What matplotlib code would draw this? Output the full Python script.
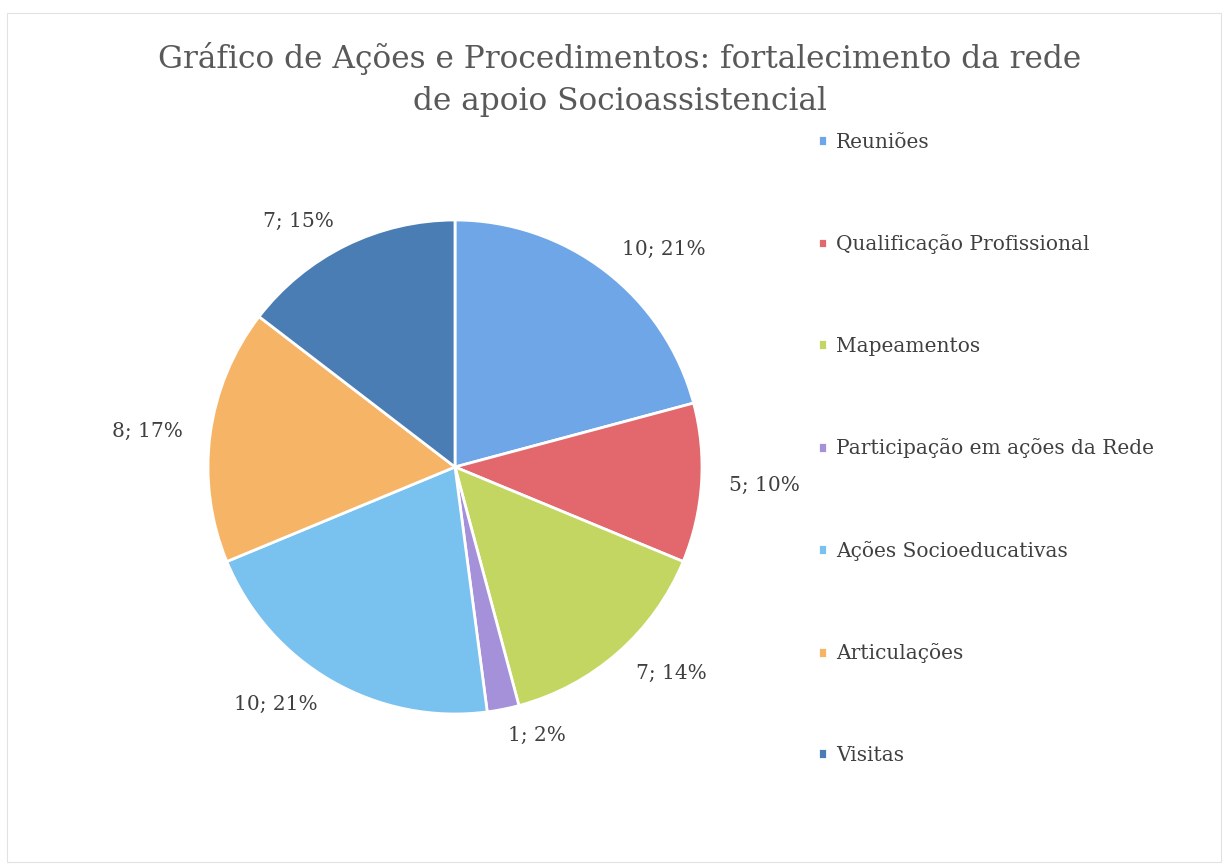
import matplotlib
matplotlib.use("Agg")
import matplotlib.pyplot as plt
from matplotlib.patches import Rectangle

categorias = ["Reuniões", "Qualificação Profissional", "Mapeamentos",
              "Participação em ações da Rede", "Ações Socioeducativas",
              "Articulações", "Visitas"]
valores = [10, 5, 7, 1, 10, 8, 7]
percentuais = ["21%", "10%", "14%", "2%", "21%", "17%", "15%"]
cores = ["#6fa6e8", "#e3686d", "#c3d661", "#a591d9", "#79c1ef", "#f6b467", "#4a7db4"]

titulo = "Gráfico de Ações e Procedimentos: fortalecimento da rede\nde apoio Socioassistencial"

plt.rcParams['font.family'] = ['DejaVu Serif']

fig = plt.figure(figsize=(12.23, 8.65), dpi=100)
fig.set_facecolor('white')

# moldura clara da área do gráfico
fig.patches.append(Rectangle((7 / 1223, 3 / 865), 1214 / 1223, 849 / 865,
                             transform=fig.transFigure, fill=False,
                             edgecolor='#e2e2e2', linewidth=0.8))

# eixo do gráfico de pizza (centro ~ (455, 467) px, raio ~247 px)
ax = fig.add_axes([208 / 1223, 151 / 865, 494 / 1223, 494 / 865])
rotulos = [f"{v}; {p}" for v, p in zip(valores, percentuais)]
wedges, textos = ax.pie(valores, colors=cores, startangle=90, counterclock=False,
                        labels=rotulos, labeldistance=1.11,
                        wedgeprops=dict(edgecolor='white', linewidth=2),
                        textprops=dict(fontsize=14.5, color='#404040'))
ax.set_xlim(-1, 1)
ax.set_ylim(-1, 1)
ax.set_aspect('equal')

fig.text(0.507, 0.951, titulo, ha='center', va='top', fontsize=22.5,
         color='#595959', linespacing=1.45)

fig.legend(wedges, categorias, loc='upper left', bbox_to_anchor=(0.662, 0.856),
           frameon=False, fontsize=14.5, labelcolor='#404040',
           handlelength=0.45, handleheight=0.45, handletextpad=0.45,
           labelspacing=4.1, borderaxespad=0)

fig.savefig("out.png", dpi=100, facecolor='white')
